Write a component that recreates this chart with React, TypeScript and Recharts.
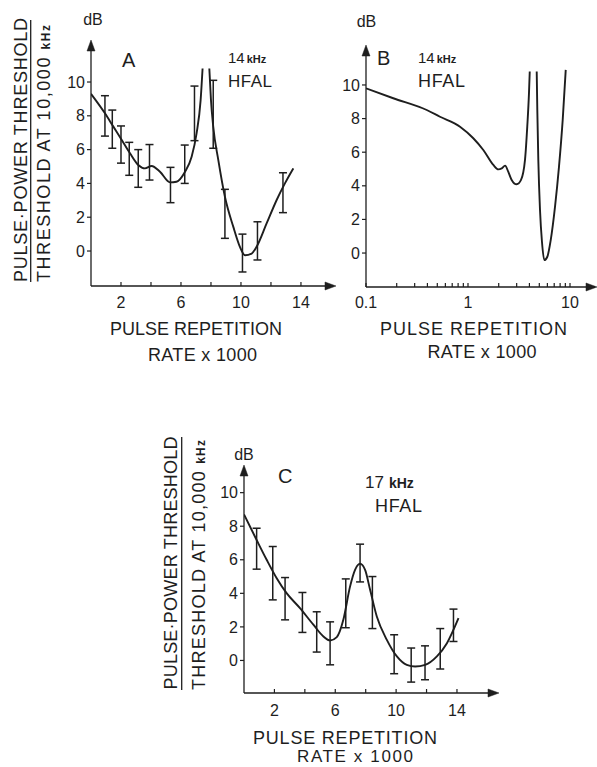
import React from 'react';
import { ComposedChart, Line, Scatter, ErrorBar, XAxis, YAxis } from 'recharts';

// ---------- Panel A : 14 kHz, linear rate axis (x1000) ----------
const aLeftX = [0, 0.93, 1.49, 2.05, 2.6, 3.15, 3.6, 4.04, 4.6, 5.27, 5.7, 6.27, 6.71, 7.04, 7.31, 7.44];
const aLeftY = [9.3, 8.15, 7.36, 6.57, 5.78, 5.09, 4.89, 5.03, 4.69, 4.06, 4.1, 4.69, 5.58, 6.96, 8.93, 10.8];
const aRightX = [7.89, 8.0, 8.15, 8.49, 8.93, 9.49, 9.93, 10.27, 10.71, 11.04, 11.71, 12.38, 12.93, 13.49];
const aRightY = [10.8, 8.93, 7.36, 5.38, 3.21, 1.43, 0.25, -0.25, -0.15, 0.25, 1.63, 3.02, 4.0, 4.89];
const aErrX = [0.93, 1.42, 2.0, 2.55, 3.15, 3.9, 5.3, 6.25, 6.9, 8.15, 8.93, 10.1, 11.1, 12.8];
const aErrLow = [6.8, 6.08, 5.2, 4.48, 3.77, 4.2, 2.86, 4.0, 6.53, 6.08, 0.75, -1.24, -0.53, 2.27];
const aErrHigh = [9.19, 8.34, 7.4, 6.43, 6.0, 6.3, 4.95, 6.27, 9.76, 10.1, 3.65, 1.0, 1.73, 4.63];

// ---------- Panel B : 14 kHz, logarithmic rate axis ----------
const bLeftX = [0.1, 0.185, 0.394, 0.531, 0.835, 1.127, 1.413, 1.771, 1.982, 2.14, 2.31, 2.48, 2.68, 3.0, 3.31, 3.62, 3.81, 3.96, 4.03];
const bLeftY = [9.8, 9.21, 8.51, 8.11, 7.52, 6.83, 6.13, 5.24, 4.98, 5.04, 5.2, 4.84, 4.35, 4.09, 4.35, 5.54, 7.52, 9.5, 10.8];
const bRightX = [4.716, 4.78, 4.89, 5.08, 5.31, 5.6, 5.99, 6.47, 7.13, 7.8, 8.48, 9.08];
const bRightY = [10.8, 8.51, 5.54, 2.56, 0.67, -0.42, -0.22, 0.77, 2.76, 5.14, 7.92, 10.9];

// ---------- Panel C : 17 kHz, linear rate axis ----------
const cCurveX = [0, 0.83, 1.49, 2.15, 2.8, 3.68, 4.56, 5.22, 5.66, 6.1, 6.53, 6.97, 7.3, 7.63, 7.96, 8.29, 8.73, 9.39, 10.05, 10.7, 11.25, 11.91, 12.68, 13.34, 14.1];
const cCurveY = [8.7, 7.18, 6.0, 4.9, 4.01, 3.12, 2.13, 1.43, 1.19, 1.39, 2.42, 4.4, 5.4, 5.76, 5.4, 4.21, 2.62, 1.23, 0.24, -0.26, -0.36, -0.26, 0.24, 1.03, 2.52];
const cErrX = [0.83, 1.89, 2.7, 3.84, 4.78, 5.66, 6.69, 7.63, 8.44, 9.87, 10.99, 11.9, 12.9, 13.77];
const cErrLow = [5.44, 3.61, 2.42, 1.67, 0.5, -0.26, 1.95, 4.68, 1.9, -0.79, -1.29, -1.15, -0.51, 1.13];
const cErrHigh = [7.88, 6.79, 4.94, 4.05, 2.9, 2.3, 4.86, 6.93, 5.0, 1.53, 0.74, 0.87, 1.9, 3.06];

// tick values / labels
const yTicks = [0, 2, 4, 6, 8, 10];
const linTicks = [2, 4, 6, 8, 10, 12, 14];
const linLabels = [2, 6, 10, 14];
const logTicks = [0.1, 0.2, 0.3, 0.4, 0.5, 0.6, 0.7, 0.8, 0.9, 1, 2, 3, 4, 5, 6, 7, 8, 9, 10];
const logLabels = [0.1, 1, 10];

const INK = '#1e1e1e';
const FONT = "'Liberation Sans', Arial, sans-serif";

const curve = (xs: number[], ys: number[]) => xs.map((x, i) => ({ x, y: ys[i] }));
const bars = (xs: number[], lo: number[], hi: number[]) =>
  xs.map((x, i) => ({ x, y: (lo[i] + hi[i]) / 2, err: (hi[i] - lo[i]) / 2 }));

const tickStyle = { fontSize: 16, fill: INK, fontFamily: FONT };
const axisLine = { stroke: INK, strokeWidth: 1.3 };
const tickLine = { stroke: INK, strokeWidth: 1.2 };
const noShape = () => <g />;

const linFmt = (v: number) => (linLabels.includes(v) ? String(v) : '');
const logFmt = (v: number) => (logLabels.some((l) => Math.abs(l - v) < 1e-9) ? String(v) : '');

function T({ x, y, size = 18, anchor = 'start', len, weight, children }: any) {
  return (
    <text x={x} y={y} fontSize={size} textAnchor={anchor} fill={INK} fontFamily={FONT}
      fontWeight={weight} textLength={len} lengthAdjust={len ? 'spacing' : undefined}>
      {children}
    </text>
  );
}

function YTitle({ x1, cy1, len1, x2, cy2, len2, xb, b0, b1 }: any) {
  return (
    <g>
      <text transform={`translate(${x1},${cy1}) rotate(-90)`} textAnchor="middle" fontSize={18}
        fill={INK} fontFamily={FONT} textLength={len1} lengthAdjust="spacing">
        PULSE{'\u00B7'}POWER THRESHOLD
      </text>
      <line x1={xb} x2={xb} y1={b0} y2={b1} stroke={INK} strokeWidth={1.3} />
      <text transform={`translate(${x2},${cy2}) rotate(-90)`} textAnchor="middle" fontSize={18}
        fill={INK} fontFamily={FONT} textLength={len2} lengthAdjust="spacing">
        THRESHOLD AT 10,000 <tspan fontSize={12} fontWeight="bold">kHz</tspan>
      </text>
    </g>
  );
}

// axis arrowheads (decoration at the axis ends)
function ArrowUp({ x, y }: any) {
  return <polygon points={`${x},${y} ${x - 4},${y + 11} ${x + 4},${y + 11}`} fill={INK} stroke={INK} strokeWidth={0.5} />;
}
function ArrowRight({ x, y }: any) {
  return <polygon points={`${x},${y} ${x - 11},${y - 4} ${x - 11},${y + 4}`} fill={INK} stroke={INK} strokeWidth={0.5} />;
}

function Panel({ left, top, width, height, margin, yWidth, yDomain, xDomain, xScale, xTicks, xFmt, xTickMargin, curves, errs }: any) {
  return (
    <div style={{ position: 'absolute', left, top, width, height }}>
      <ComposedChart width={width} height={height} margin={margin}>
        <XAxis type="number" dataKey="x" scale={xScale} domain={xDomain} allowDataOverflow ticks={xTicks}
          tickFormatter={xFmt} interval={0} tick={tickStyle} tickSize={-4} tickMargin={xTickMargin}
          axisLine={axisLine} tickLine={tickLine} height={30} />
        <YAxis type="number" dataKey="y" domain={yDomain} allowDataOverflow ticks={yTicks} interval={0}
          tick={tickStyle} tickSize={4} tickMargin={2} axisLine={axisLine} tickLine={tickLine} width={yWidth} />
        {curves.map((d: any, i: number) => (
          <Line key={i} data={d} dataKey="y" type="monotone" stroke={INK} strokeWidth={1.9}
            dot={false} activeDot={false} isAnimationActive={false} />
        ))}
        {errs && (
          <Scatter data={errs} dataKey="y" shape={noShape} isAnimationActive={false}>
            <ErrorBar dataKey="err" direction="y" width={4} stroke={INK} strokeWidth={1.5} isAnimationActive={false} />
          </Scatter>
        )}
      </ComposedChart>
    </div>
  );
}

export default function App() {
  return (
    <div style={{ position: 'absolute', left: 0, top: 0, width: 597, height: 767, background: '#fff', overflow: 'hidden' }}>
      <Panel left={0} top={0} width={340} height={380}
        margin={{ top: 45, right: 8, bottom: 64, left: 0 }} yWidth={91}
        yDomain={[-2.07, 12.19]} xDomain={[0, 16.07]} xScale="linear" xTicks={linTicks} xFmt={linFmt} xTickMargin={15}
        curves={[curve(aLeftX, aLeftY), curve(aRightX, aRightY)]}
        errs={bars(aErrX, aErrLow, aErrHigh)} />

      <Panel left={300} top={0} width={297} height={380}
        margin={{ top: 50, right: 2, bottom: 63, left: 0 }} yWidth={66}
        yDomain={[-2.02, 12.08]} xDomain={[0.1, 17.58]} xScale="log" xTicks={logTicks} xFmt={logFmt} xTickMargin={14}
        curves={[curve(bLeftX, bLeftY), curve(bRightX, bRightY)]} />

      <Panel left={150} top={400} width={360} height={367}
        margin={{ top: 70, right: 15, bottom: 44, left: 0 }} yWidth={94}
        yDomain={[-1.94, 11.35]} xDomain={[0, 16.5]} xScale="linear" xTicks={linTicks} xFmt={linFmt} xTickMargin={16}
        curves={[curve(cCurveX, cCurveY)]}
        errs={bars(cErrX, cErrLow, cErrHigh)} />

      <svg width={597} height={767} style={{ position: 'absolute', left: 0, top: 0, pointerEvents: 'none' }}>
        <ArrowUp x={91} y={40} />
        <ArrowRight x={336} y={286} />
        <ArrowUp x={366} y={45} />
        <ArrowRight x={597} y={287} />
        <ArrowUp x={244} y={465} />
        <ArrowRight x={499} y={693} />

        {/* Panel A */}
        <T x={93} y={25} size={16} anchor="middle">dB</T>
        <T x={122} y={67} size={20}>A</T>
        <text x={228} y={63} fill={INK} fontFamily={FONT}>
          <tspan fontSize={15}>14</tspan><tspan fontSize={11} fontWeight="bold" dx={2}>kHz</tspan>
        </text>
        <T x={228} y={87} size={17} len={44}>HFAL</T>
        <T x={196} y={335} anchor="middle" len={172}>PULSE REPETITION</T>
        <T x={202.5} y={361} anchor="middle" len={109}>RATE x 1000</T>
        <YTitle x1={27} cy1={150} len1={264} x2={50} cy2={153.5} len2={257} xb={30.7} b0={20} b1={282} />

        {/* Panel B */}
        <T x={366.5} y={27} size={16} anchor="middle">dB</T>
        <T x={377} y={65} size={20}>B</T>
        <text x={418} y={63} fill={INK} fontFamily={FONT}>
          <tspan fontSize={15}>14</tspan><tspan fontSize={11} fontWeight="bold" dx={2}>kHz</tspan>
        </text>
        <T x={418} y={87} size={18} len={47}>HFAL</T>
        <T x={473.5} y={335} anchor="middle" len={187}>PULSE REPETITION</T>
        <T x={482} y={358} anchor="middle" len={109}>RATE x 1000</T>

        {/* Panel C */}
        <T x={244} y={460} size={16} anchor="middle">dB</T>
        <T x={278} y={483} size={20}>C</T>
        <text x={365} y={488} fill={INK} fontFamily={FONT}>
          <tspan fontSize={17}>17</tspan><tspan fontSize={14} fontWeight="bold" dx={5}>kHz</tspan>
        </text>
        <T x={375} y={512} size={18} len={47}>HFAL</T>
        <T x={345} y={744} anchor="middle" len={184}>PULSE REPETITION</T>
        <T x={355} y={762} size={17} anchor="middle" len={116}>RATE x 1000</T>
        <YTitle x1={177} cy1={563} len1={253} x2={205} cy2={565} len2={250} xb={181.7} b0={437} b1={690} />
      </svg>
    </div>
  );
}
